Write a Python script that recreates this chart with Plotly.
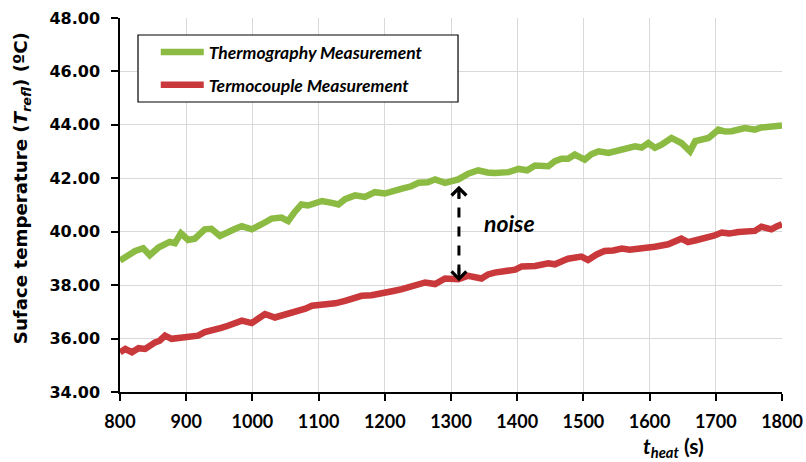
import plotly.graph_objects as go

# Heating time (s) and surface temperature (°C) of the thermography trace
t_thermo = [800, 808, 815, 823, 835, 845, 858, 868, 875, 883, 892, 903, 913, 928, 938,
            951, 963, 975, 984, 999, 1014, 1029, 1044, 1054, 1064, 1074, 1084, 1094, 1105,
            1120, 1130, 1140, 1155, 1170, 1185, 1200, 1213, 1226, 1240, 1251, 1265, 1276,
            1291, 1311, 1326, 1341, 1355, 1366, 1387, 1402, 1415, 1427, 1447, 1457, 1467,
            1477, 1487, 1502, 1512, 1523, 1538, 1558, 1568, 1578, 1588, 1598, 1608, 1618,
            1633, 1648, 1661, 1669, 1689, 1704, 1714, 1724, 1744, 1759, 1769, 1779, 1790, 1800]
v_thermo = [38.92, 39.05, 39.15, 39.28, 39.38, 39.12, 39.41, 39.50, 39.62, 39.57, 39.94, 39.69,
            39.74, 40.09, 40.11, 39.84, 40.00, 40.12, 40.21, 40.09, 40.28, 40.49, 40.53, 40.40,
            40.74, 41.02, 40.98, 41.09, 41.15, 41.08, 41.02, 41.22, 41.36, 41.30, 41.48, 41.43,
            41.55, 41.61, 41.70, 41.83, 41.85, 41.96, 41.83, 41.96, 42.17, 42.30, 42.22, 42.20,
            42.23, 42.35, 42.30, 42.48, 42.45, 42.64, 42.73, 42.73, 42.89, 42.70, 42.90, 43.01,
            42.95, 43.07, 43.12, 43.20, 43.15, 43.32, 43.14, 43.26, 43.51, 43.32, 43.01, 43.39,
            43.51, 43.82, 43.75, 43.76, 43.88, 43.82, 43.90, 43.92, 43.95, 43.98]

# Heating time (s) and temperature (°C) of the thermocouple trace
t_couple = [800, 808, 818, 828, 838, 845, 853, 860, 868, 878, 888, 898, 908, 918, 928, 943,
            953, 963, 974, 984, 999, 1009, 1019, 1034, 1044, 1054, 1069, 1080, 1090, 1100,
            1110, 1125, 1140, 1152, 1165, 1180, 1200, 1213, 1226, 1244, 1261, 1276, 1291,
            1311, 1326, 1346, 1356, 1366, 1387, 1397, 1407, 1427, 1447, 1457, 1472, 1477,
            1497, 1507, 1520, 1532, 1545, 1558, 1570, 1583, 1595, 1608, 1628, 1648, 1658,
            1670, 1683, 1697, 1709, 1720, 1734, 1747, 1759, 1769, 1784, 1792, 1800]
v_couple = [35.49, 35.61, 35.49, 35.64, 35.61, 35.75, 35.86, 35.92, 36.11, 35.99, 36.03, 36.05,
            36.08, 36.11, 36.24, 36.30, 36.40, 36.48, 36.55, 36.67, 36.58, 36.75, 36.92, 36.79,
            36.85, 36.92, 37.00, 37.12, 37.23, 37.25, 37.33, 37.32, 37.41, 37.50, 37.60, 37.62,
            37.75, 37.78, 37.85, 37.95, 38.10, 38.04, 38.25, 38.22, 38.35, 38.25, 38.40, 38.47,
            38.53, 38.58, 38.70, 38.72, 38.82, 38.78, 38.94, 38.99, 39.07, 38.94, 39.15, 39.28,
            39.30, 39.37, 39.33, 39.34, 39.40, 39.44, 39.53, 39.74, 39.61, 39.68, 39.74, 39.85,
            39.97, 39.93, 39.99, 39.98, 40.03, 40.19, 40.09, 40.20, 40.28]

series_names = ["Thermography Measurement", "Termocouple Measurement"]
series_colors = ["#8CBB43", "#C9383A"]

x_ticks = [800, 900, 1000, 1100, 1200, 1300, 1400, 1500, 1600, 1700, 1800]
y_ticks = [34, 36, 38, 40, 42, 44, 46, 48]

# Gap marked as "noise" between the two traces
noise_t = 1312
noise_top = 41.72
noise_bottom = 38.15

LATO = "Lato"
DEJAVU = "DejaVu Sans"

fig = go.Figure()
for i, (tx, vy) in enumerate([(t_thermo, v_thermo), (t_couple, v_couple)]):
    fig.add_trace(go.Scatter(
        x=tx, y=vy, mode="lines", name=series_names[i], legendgroup=f"g{i}",
        line=dict(color=series_colors[i], width=6.5),
    ))

# dashed connector between the traces
fig.add_shape(type="line", xref="x", yref="y",
              x0=noise_t, x1=noise_t, y0=noise_top - 0.1, y1=noise_bottom + 0.1,
              line=dict(color="black", width=3, dash="10px,9px"), layer="above")
# chevron heads at both ends
for tip, tail in [(noise_top, noise_top - 0.55), (noise_bottom, noise_bottom + 0.55)]:
    fig.add_annotation(x=noise_t, y=tip, ax=noise_t, ay=tail, xref="x", yref="y",
                       axref="x", ayref="y", text="", showarrow=True, arrowhead=4,
                       arrowsize=1.1, arrowwidth=2.6, arrowcolor="black", standoff=0)
fig.add_annotation(x=1388, y=40.34, xref="x", yref="y", text="noise", showarrow=False,
                   font=dict(family=LATO, size=23, color="black", weight="bold", style="italic"))

# axis titles
fig.add_annotation(x=-0.148, y=0.545, xref="paper", yref="paper", textangle=-90,
                   text="Suface temperature (<i>T<sub>refl</sub></i>) (ºC)", showarrow=False,
                   xanchor="center", yanchor="middle",
                   font=dict(family=DEJAVU, size=18.2, color="black", weight="bold"))
fig.add_annotation(x=0.836, y=-0.148, xref="paper", yref="paper",
                   text="<i>t</i><sub><i>heat</i></sub> (s)", showarrow=False,
                   xanchor="center", yanchor="middle",
                   font=dict(family=LATO, size=21, color="black", weight="bold"))

# legend frame
fig.add_shape(type="rect", xref="paper", yref="paper", x0=0.0272, x1=0.5106,
              y0=0.7754, y1=0.9545, line=dict(color="black", width=1.2),
              fillcolor="white", layer="above")

fig.update_layout(
    width=806, height=462, autosize=False,
    margin=dict(l=120, r=24, t=18, b=70),
    paper_bgcolor="white", plot_bgcolor="white",
    showlegend=True,
    legend=dict(x=0.054, y=0.957, xanchor="left", yanchor="top",
                bgcolor="rgba(0,0,0,0)", borderwidth=0, tracegroupgap=7,
                itemwidth=43,
                font=dict(family=LATO, size=17.5, color="black", weight="bold", style="italic")),
    xaxis=dict(range=[800, 1800], tickvals=x_ticks, showgrid=True, gridcolor="#D9D9D9",
               gridwidth=1, showline=True, linecolor="black", linewidth=1.5,
               ticks="outside", ticklen=7, tickwidth=1.5, tickcolor="black",
               zeroline=False, ticklabelstandoff=6, automargin=False,
               tickfont=dict(family=LATO, size=18, color="black", weight="bold")),
    yaxis=dict(range=[34, 48], tickvals=y_ticks, tickformat=".2f", showgrid=True,
               gridcolor="#D9D9D9", gridwidth=1, showline=True, linecolor="black",
               linewidth=1.5, ticks="outside", ticklen=7, tickwidth=1.5, tickcolor="black",
               zeroline=False, ticklabelstandoff=8, automargin=False,
               tickfont=dict(family=DEJAVU, size=16, color="black", weight="bold")),
)

fig.write_html("out.html")
